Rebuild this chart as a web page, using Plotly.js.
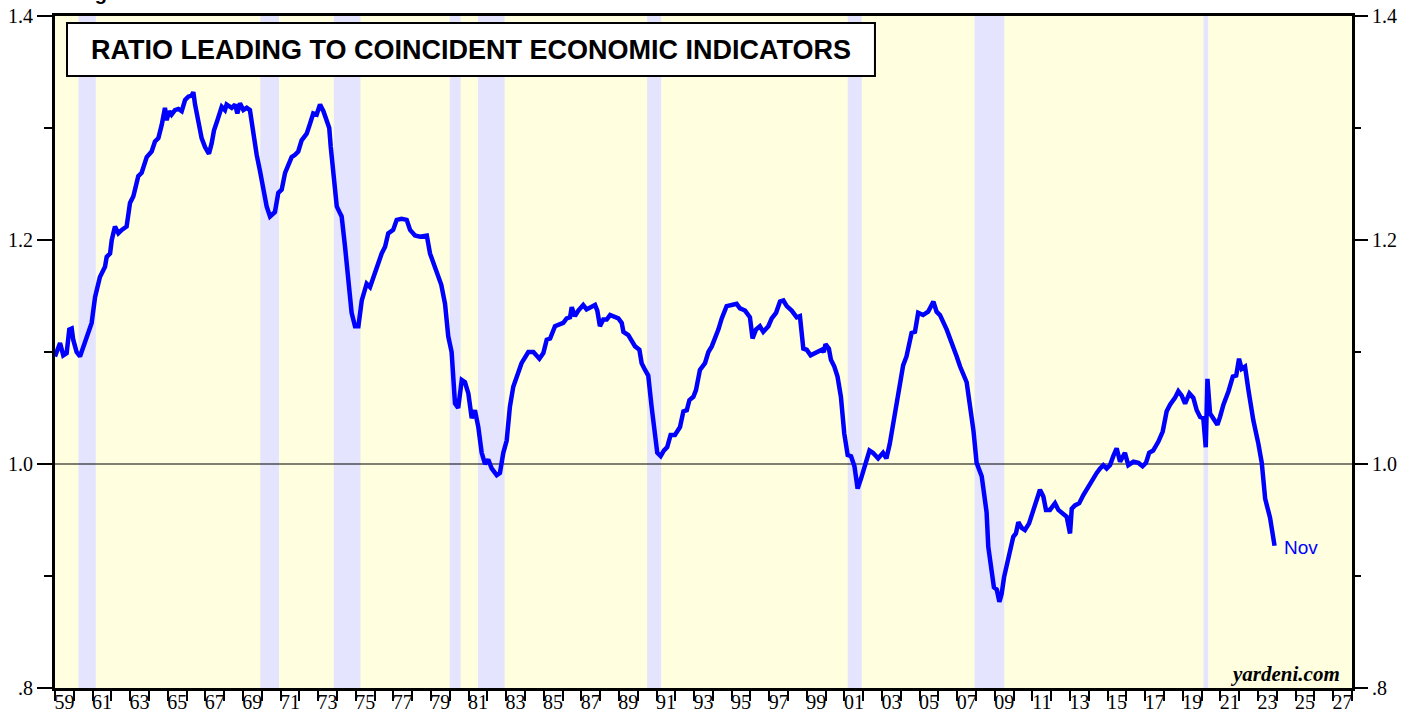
<!DOCTYPE html>
<html>
<head>
<meta charset="utf-8">
<script src="https://cdn.plot.ly/plotly-3.0.1.min.js"></script>
<style>html,body{margin:0;padding:0;background:#fff;}#chart{width:1417px;height:719px;}</style>
</head>
<body>
<div id="chart"></div>
<script>
// Decimal years and ratio values
const years = [
1959.00,1959.27,1959.44,1959.62,1959.76,1959.89,1959.97,1960.15,1960.33,1960.60,1960.83,1960.95,
1961.13,1961.39,1961.66,1961.75,1961.93,1962.02,1962.19,1962.37,1962.55,1962.81,1962.99,1963.17,
1963.43,1963.61,1963.88,1964.14,1964.32,1964.50,1964.68,1964.85,1964.94,1965.08,1965.20,1965.38,
1965.56,1965.74,1965.92,1966.09,1966.27,1966.36,1966.45,1966.62,1966.80,1966.98,1967.19,1967.33,
1967.46,1967.64,1967.87,1968.04,1968.13,1968.40,1968.58,1968.70,1968.84,1969.02,1969.20,1969.37,
1969.55,1969.73,1969.90,1970.08,1970.26,1970.44,1970.70,1970.88,1971.06,1971.24,1971.42,1971.59,
1971.77,1971.94,1972.12,1972.39,1972.57,1972.74,1972.92,1973.10,1973.28,1973.45,1973.59,1973.67,
1973.81,1973.99,1974.16,1974.25,1974.43,1974.60,1974.78,1974.96,1975.14,1975.32,1975.58,1975.76,
1975.94,1976.20,1976.38,1976.56,1976.73,1976.99,1977.18,1977.44,1977.71,1977.89,1978.15,1978.42,
1978.78,1978.95,1979.13,1979.39,1979.55,1979.75,1979.92,1980.10,1980.28,1980.45,1980.64,1980.81,
1980.99,1981.17,1981.34,1981.52,1981.70,1981.88,1982.05,1982.23,1982.50,1982.67,1982.85,1983.03,
1983.20,1983.38,1983.65,1983.82,1984.18,1984.45,1984.77,1984.98,1985.16,1985.34,1985.60,1986.04,
1986.22,1986.40,1986.49,1986.66,1986.84,1987.10,1987.28,1987.46,1987.73,1987.85,1987.99,1988.17,
1988.35,1988.53,1988.79,1988.97,1989.15,1989.24,1989.50,1989.68,1989.86,1990.09,1990.21,1990.39,
1990.56,1990.74,1990.92,1991.04,1991.22,1991.39,1991.57,1991.75,1991.98,1992.25,1992.43,1992.61,
1992.75,1992.96,1993.10,1993.31,1993.58,1993.76,1993.94,1994.11,1994.29,1994.47,1994.73,1995.00,
1995.26,1995.44,1995.71,1995.97,1996.11,1996.29,1996.50,1996.68,1996.95,1997.13,1997.36,1997.57,
1997.75,1997.93,1998.19,1998.46,1998.63,1998.81,1998.99,1999.20,1999.52,1999.79,1999.90,1999.99,
2000.17,2000.28,2000.46,2000.63,2000.81,2000.99,2001.17,2001.35,2001.53,2001.70,2001.88,2002.06,
2002.33,2002.51,2002.79,2003.05,2003.23,2003.41,2003.68,2003.94,2004.12,2004.30,2004.57,2004.75,
2004.92,2005.18,2005.45,2005.73,2005.90,2006.08,2006.44,2006.97,2007.15,2007.50,2007.68,2007.86,
2008.03,2008.30,2008.56,2008.65,2008.95,2009.10,2009.24,2009.36,2009.49,2009.81,2009.98,2010.12,
2010.25,2010.43,2010.60,2010.82,2011.01,2011.22,2011.40,2011.58,2011.72,2011.93,2012.20,2012.38,
2012.64,2012.82,2013.00,2013.09,2013.26,2013.49,2013.70,2013.97,2014.24,2014.42,2014.60,2014.77,
2014.95,2015.13,2015.30,2015.48,2015.66,2015.92,2016.10,2016.37,2016.64,2016.86,2017.04,2017.21,
2017.42,2017.70,2017.93,2018.14,2018.32,2018.58,2018.76,2018.94,2019.12,2019.35,2019.56,2019.74,
2019.92,2020.09,2020.22,2020.31,2020.45,2020.63,2020.84,2020.98,2021.16,2021.43,2021.66,2021.84,
2021.99,2022.13,2022.31,2022.49,2022.75,2023.02,2023.20,2023.38,2023.64,2023.88
];
const ratio = [
1.096,1.108,1.097,1.099,1.120,1.121,1.111,1.100,1.096,1.108,1.121,1.126,
1.149,1.167,1.176,1.185,1.188,1.200,1.212,1.206,1.209,1.212,1.233,1.239,
1.257,1.260,1.274,1.279,1.288,1.291,1.303,1.318,1.307,1.315,1.312,1.316,
1.317,1.315,1.325,1.328,1.329,1.332,1.321,1.307,1.291,1.283,1.277,1.286,
1.298,1.307,1.319,1.316,1.321,1.318,1.321,1.313,1.322,1.316,1.318,1.316,
1.292,1.276,1.262,1.248,1.230,1.221,1.225,1.242,1.245,1.260,1.268,1.274,
1.276,1.279,1.289,1.295,1.304,1.313,1.312,1.321,1.315,1.307,1.300,1.283,
1.262,1.230,1.224,1.221,1.194,1.167,1.135,1.123,1.123,1.146,1.161,1.158,
1.167,1.182,1.188,1.194,1.206,1.209,1.218,1.219,1.218,1.209,1.204,1.203,
1.204,1.188,1.179,1.167,1.160,1.143,1.114,1.100,1.054,1.050,1.075,1.073,
1.063,1.041,1.048,1.033,1.010,1.000,1.004,0.996,0.990,0.992,1.010,1.021,
1.051,1.069,1.082,1.090,1.100,1.100,1.094,1.099,1.111,1.112,1.123,1.126,
1.130,1.131,1.140,1.132,1.137,1.142,1.138,1.140,1.142,1.137,1.123,1.129,
1.129,1.133,1.131,1.130,1.126,1.118,1.115,1.109,1.105,1.102,1.090,1.084,
1.079,1.051,1.027,1.010,1.007,1.012,1.015,1.026,1.026,1.033,1.047,1.048,
1.057,1.060,1.066,1.084,1.090,1.100,1.105,1.112,1.120,1.130,1.141,1.142,
1.143,1.139,1.137,1.131,1.112,1.120,1.123,1.118,1.123,1.130,1.135,1.145,
1.146,1.141,1.137,1.131,1.132,1.103,1.102,1.097,1.100,1.102,1.100,1.107,
1.103,1.093,1.087,1.078,1.060,1.027,1.008,1.007,0.998,0.978,0.987,0.998,
1.012,1.010,1.005,1.010,1.005,1.018,1.045,1.075,1.088,1.096,1.117,1.118,
1.135,1.133,1.136,1.145,1.136,1.133,1.120,1.096,1.087,1.073,1.054,1.030,
1.001,0.989,0.957,0.926,0.890,0.888,0.877,0.884,0.899,0.920,0.935,0.938,
0.948,0.943,0.941,0.947,0.957,0.966,0.977,0.971,0.959,0.959,0.965,0.959,
0.956,0.953,0.938,0.960,0.963,0.965,0.972,0.980,0.986,0.992,0.996,0.999,
0.996,0.999,1.007,1.014,1.002,1.010,0.999,1.002,1.001,0.998,1.001,1.010,
1.012,1.020,1.029,1.047,1.053,1.059,1.065,1.061,1.054,1.063,1.059,1.048,
1.042,1.041,1.015,1.076,1.045,1.041,1.035,1.042,1.053,1.065,1.078,1.079,
1.094,1.085,1.087,1.066,1.039,1.018,1.001,0.969,0.952,0.927
];
// Recession periods (decimal years)
const recStart = [1960.25,1969.92,1973.83,1980.00,1981.50,1990.50,2001.17,2007.92,2020.10];
const recEnd   = [1961.17,1970.92,1975.25,1980.58,1982.92,1991.25,2001.92,2009.50,2020.35];
// Axis ticks
const xTickYears = []; for (let y = 1959; y <= 2028; y++) xTickYears.push(y);
const xLabelYears = [1959,1961,1963,1965,1967,1969,1971,1973,1975,1977,1979,1981,1983,1985,1987,1989,1991,1993,1995,1997,1999,2001,2003,2005,2007,2009,2011,2013,2015,2017,2019,2021,2023,2025,2027];
const xLabelText = xLabelYears.map(y => String(y % 100).padStart(2, '0'));
const yTickVals = [0.8, 1.0, 1.2, 1.4];
const yTickText = ['.8', '1.0', '1.2', '1.4'];
const yMinorVals = [0.9, 1.1, 1.3];

const serif = 'Liberation Serif, Times New Roman, serif';
const sans = 'Liberation Sans, Arial, sans-serif';

const shapes = recStart.map((s, i) => ({
  type: 'rect', xref: 'x', yref: 'paper', x0: s, x1: recEnd[i], y0: 0, y1: 1,
  fillcolor: '#E4E4FF', line: {width: 0}, layer: 'below'
}));
shapes.push({type: 'line', xref: 'paper', yref: 'y', x0: 0, x1: 1, y0: 1.0, y1: 1.0,
  line: {color: '#000', width: 1.2}, layer: 'below'});
shapes.push({type: 'rect', xref: 'paper', yref: 'paper', x0: 0.00925, x1: 0.6322, y0: 0.9107, y1: 0.9896,
  fillcolor: '#fff', line: {color: '#000', width: 2}, layer: 'above'});

const yCommon = {
  range: [0.8, 1.4], tickmode: 'array', tickvals: yTickVals, ticktext: yTickText,
  ticks: 'outside', ticklen: 15, tickwidth: 1.5, tickcolor: '#000',
  minor: {tickmode: 'array', tickvals: yMinorVals, ticks: 'outside', ticklen: 8, tickwidth: 1.5, tickcolor: '#000', showgrid: false},
  tickfont: {family: serif, size: 20, color: '#000'},
  showgrid: false, zeroline: false, fixedrange: true
};

const layout = {
  width: 1417, height: 719,
  margin: {l: 55, r: 65, t: 16, b: 31},
  paper_bgcolor: '#fff', plot_bgcolor: '#FFFFE0',
  showlegend: false,
  xaxis: {
    range: [1959, 2028], tickmode: 'array', tickvals: xTickYears, showticklabels: false,
    ticks: 'outside', ticklen: 10, tickwidth: 2, tickcolor: '#000',
    showline: true, linewidth: 3, linecolor: '#000', mirror: true,
    showgrid: false, zeroline: false
  },
  xaxis2: {
    overlaying: 'x', anchor: 'y', side: 'bottom', range: [1959, 2028],
    tickmode: 'array', tickvals: xLabelYears.map(y => y + 0.5), ticktext: xLabelText,
    ticks: '', showline: false, showgrid: false, zeroline: false,
    tickfont: {family: serif, size: 20, color: '#000'}, ticklabelstandoff: 0
  },
  yaxis: Object.assign({}, yCommon, {side: 'left', showline: true, linewidth: 3, linecolor: '#000', mirror: true}),
  yaxis2: Object.assign({}, yCommon, {side: 'right', overlaying: 'y', anchor: 'x', showline: false}),
  shapes: shapes,
  annotations: [
    {xref: 'paper', yref: 'paper', x: 0.3204, y: 0.950, xanchor: 'center', yanchor: 'middle',
     text: '<b>RATIO LEADING TO COINCIDENT ECONOMIC INDICATORS</b>', showarrow: false,
     font: {family: sans, size: 27, color: '#000'}},
    {xref: 'paper', yref: 'paper', x: 0.9923, y: 0.0208, xanchor: 'right', yanchor: 'middle',
     text: '<b><i>yardeni.com</i></b>', showarrow: false,
     font: {family: serif, size: 21, color: '#000'}},
    {xref: 'paper', yref: 'paper', x: 0.946, y: 0.2098, xanchor: 'left', yanchor: 'middle',
     text: 'Nov', showarrow: false, font: {family: sans, size: 19, color: '#0000FF'}},
    {xref: 'paper', yref: 'paper', x: 0.0, y: 1.0, xanchor: 'left', yanchor: 'bottom',
     xshift: 20, yshift: 10, text: '<b>Figure 1.</b>', showarrow: false,
     font: {family: sans, size: 20, color: '#000'}}
  ]
};

const traces = [
  {x: years, y: ratio, type: 'scatter', mode: 'lines', xaxis: 'x', yaxis: 'y',
   line: {color: '#0000FF', width: 4.5}, hoverinfo: 'x+y'},
  {x: [], y: [], type: 'scatter', mode: 'lines', xaxis: 'x2', yaxis: 'y', hoverinfo: 'skip'},
  {x: [], y: [], type: 'scatter', mode: 'lines', xaxis: 'x', yaxis: 'y2', hoverinfo: 'skip'}
];

Plotly.newPlot('chart', traces, layout, {displayModeBar: false, staticPlot: true});
</script>
</body>
</html>
